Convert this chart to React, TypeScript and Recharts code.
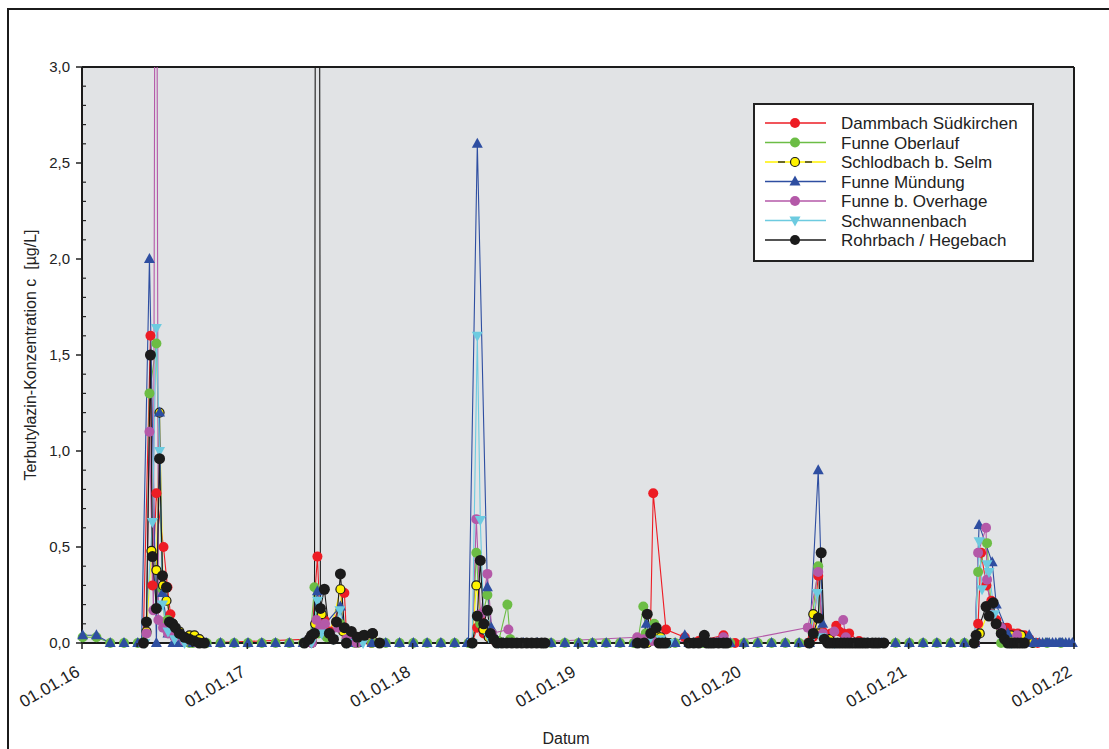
import React from "react";
import {
  LineChart,
  Line,
  XAxis,
  YAxis,
  CartesianGrid,
  ReferenceLine,
  Legend,
} from "recharts";

const FONT = '"Liberation Sans", Arial, Helvetica, sans-serif';

// axis ticks (x in decimal years)
const xTicks = [
  2016, 2016.3333, 2016.6667, 2017, 2017.3333, 2017.6667, 2018, 2018.3333,
  2018.6667, 2019, 2019.3333, 2019.6667, 2020, 2020.3333, 2020.6667, 2021,
  2021.3333, 2021.6667, 2022,
];
const yTicks = [
  0, 0.1, 0.2, 0.3, 0.4, 0.5, 0.6, 0.7, 0.8, 0.9, 1, 1.1, 1.2, 1.3, 1.4, 1.5,
  1.6, 1.7, 1.8, 1.9, 2, 2.1, 2.2, 2.3, 2.4, 2.5, 2.6, 2.7, 2.8, 2.9, 3,
];

// routine monthly samples 2016-2021 (null = month covered by event sampling)
const oberlaufMonthly = [
  0.03, 0.03, 0, 0, 0, null, null, null, 0, 0, 0, 0,
  0, 0, 0, 0, 0, null, null, null, 0, 0, 0, 0,
  0, 0, 0, 0, 0, null, null, null, 0, 0, 0, 0,
  0, 0, 0, 0, 0, null, null, 0, 0, 0, 0, 0,
  0, 0, 0, 0, 0, null, null, 0, 0, 0, 0, 0,
  0, 0, 0, 0, 0, null, null, 0, 0, 0, 0, 0,
];
const muendungMonthly = [
  0.04, 0.04, 0, 0, 0, null, null, 0, 0, 0, 0, 0,
  0, 0, 0, 0, 0, null, null, null, 0, 0, 0, 0,
  0, 0, 0, 0, 0, null, null, 0, 0, 0, 0, 0,
  0, 0, 0, 0, 0, null, null, 0, 0, 0, 0, 0,
  0, 0, 0, 0, 0, null, null, 0, 0, 0, 0, 0,
  0, 0, 0, 0, 0, null, null, null, null, 0, 0, 0,
];

// event samples [decimal year, µg/L]
const dammbach = [
  [2016.37, 0], [2016.414, 1.6], [2016.426, 0.3], [2016.45, 0.78], [2016.493, 0.5],
  [2016.517, 0.29], [2016.535, 0.15], [2016.565, 0.06], [2016.62, 0.03], [2016.68, 0.01], [2016.74, 0],
  [2017.39, 0.02], [2017.424, 0.45], [2017.44, 0.1], [2017.466, 0.12], [2017.5, 0.06],
  [2017.587, 0.26], [2017.6, 0.04], [2017.66, 0.02], [2017.75, 0],
  [2018.36, 0], [2018.39, 0.08], [2018.41, 0.12], [2018.43, 0.05], [2018.46, 0.03], [2018.5, 0.01], [2018.55, 0],
  [2019.4, 0], [2019.437, 0.02], [2019.455, 0.78], [2019.532, 0.07], [2019.646, 0.03], [2019.73, 0.01],
  [2019.88, 0.04], [2019.95, 0],
  [2020.39, 0], [2020.42, 0.03], [2020.453, 0.35], [2020.48, 0.06], [2020.53, 0.05], [2020.562, 0.09],
  [2020.58, 0.06], [2020.604, 0.05], [2020.64, 0.05], [2020.7, 0.01], [2020.8, 0],
  [2021.4, 0], [2021.42, 0.1], [2021.438, 0.47], [2021.47, 0.3], [2021.5, 0.22], [2021.53, 0.12],
  [2021.56, 0.08], [2021.595, 0.08], [2021.63, 0.05], [2021.66, 0.05], [2021.7, 0.04], [2021.73, 0.02], [2021.78, 0],
];
const oberlaufEvents = [
  [2016.39, 0.05], [2016.408, 1.3], [2016.45, 1.56], [2016.487, 0.28], [2016.5, 0.11],
  [2016.52, 0.12], [2016.55, 0.06], [2016.6, 0.02], [2016.65, 0],
  [2017.38, 0.02], [2017.406, 0.29], [2017.43, 0.05], [2017.48, 0.03], [2017.56, 0.1], [2017.6, 0.02], [2017.65, 0],
  [2018.36, 0], [2018.385, 0.47], [2018.409, 0.1], [2018.452, 0.25], [2018.48, 0.05], [2018.52, 0.01],
  [2018.573, 0.2], [2018.59, 0.02], [2018.65, 0],
  [2019.36, 0], [2019.395, 0.19], [2019.41, 0.05], [2019.461, 0.1], [2019.49, 0.02], [2019.55, 0],
  [2020.4, 0], [2020.453, 0.4], [2020.47, 0.05], [2020.5, 0.02], [2020.55, 0],
  [2021.4, 0], [2021.42, 0.37], [2021.474, 0.52], [2021.5, 0.15], [2021.559, 0], [2021.6, 0],
];
const schlodbach = [
  [2016.37, 0], [2016.39, 0.06], [2016.42, 0.48], [2016.45, 0.38], [2016.469, 1.2], [2016.49, 0.3],
  [2016.511, 0.22], [2016.55, 0.1], [2016.589, 0.06], [2016.65, 0.04], [2016.68, 0.04], [2016.71, 0.02], [2016.74, 0],
  [2017.39, 0], [2017.41, 0.1], [2017.45, 0.15], [2017.5, 0.05], [2017.563, 0.28], [2017.58, 0.06],
  [2017.7, 0.04], [2017.76, 0.05], [2017.8, 0],
  [2018.36, 0], [2018.385, 0.3], [2018.427, 0.07], [2018.46, 0.03], [2018.52, 0], [2018.65, 0],
  [2019.42, 0], [2019.47, 0.05], [2019.5, 0.03], [2019.55, 0],
  [2020.4, 0], [2020.423, 0.15], [2020.45, 0.05], [2020.52, 0.02], [2020.6, 0],
  [2021.4, 0], [2021.43, 0.05], [2021.5, 0.2], [2021.56, 0.08], [2021.62, 0.04], [2021.68, 0.04], [2021.75, 0],
];
const muendungEvents = [
  [2016.36, 0], [2016.408, 2.0], [2016.45, 0], [2016.469, 1.2], [2016.487, 0.26], [2016.52, 0.05], [2016.55, 0],
  [2017.38, 0], [2017.424, 0.27], [2017.45, 0.08], [2017.563, 0.19], [2017.6, 0.02], [2017.63, 0],
  [2018.33, 0], [2018.391, 2.6], [2018.452, 0.29], [2018.476, 0.08], [2018.5, 0.03], [2018.55, 0],
  [2019.38, 0], [2019.413, 0.1], [2019.44, 0.03], [2019.646, 0.04], [2019.7, 0],
  [2020.4, 0], [2020.453, 0.9], [2020.48, 0.1], [2020.52, 0],
  [2021.4, 0], [2021.426, 0.615], [2021.505, 0.42], [2021.53, 0.2], [2021.6, 0.05], [2021.729, 0.04],
  [2021.77, 0], [2021.79, 0], [2021.81, 0], [2021.83, 0], [2021.85, 0], [2021.87, 0], [2021.89, 0],
  [2021.91, 0], [2021.93, 0], [2021.95, 0], [2021.97, 0], [2021.99, 0],
];
const overhage = [
  [2016.37, 0], [2016.39, 0.05], [2016.408, 1.1], [2016.432, 0.17], [2016.447, 6.0], [2016.462, 0.12],
  [2016.49, 0.08], [2016.52, 0.05], [2016.56, 0.03], [2016.62, 0.01], [2016.7, 0],
  [2017.39, 0], [2017.418, 0.12], [2017.44, 0.08], [2017.47, 0.1], [2017.5, 0.05], [2017.55, 0.08], [2017.6, 0.02], [2017.66, 0],
  [2018.36, 0], [2018.385, 0.645], [2018.41, 0.15], [2018.452, 0.36], [2018.48, 0.05], [2018.579, 0.07], [2018.62, 0],
  [2019.358, 0.03], [2019.4, 0.02], [2019.45, 0.01], [2019.52, 0], [2019.88, 0.03], [2019.9, 0],
  [2020.39, 0.08], [2020.453, 0.37], [2020.48, 0.05], [2020.55, 0.06], [2020.604, 0.12], [2020.62, 0.03], [2020.7, 0],
  [2021.4, 0], [2021.42, 0.47], [2021.468, 0.6], [2021.474, 0.33], [2021.5, 0.15], [2021.56, 0.08], [2021.656, 0.04], [2021.7, 0],
];
const schwannenbach = [
  [2016.38, 0], [2016.426, 0.63], [2016.45, 1.64], [2016.469, 1.0], [2016.487, 0.2], [2016.52, 0.06], [2016.56, 0.02], [2016.62, 0],
  [2017.388, 0], [2017.424, 0.22], [2017.45, 0.05], [2017.52, 0.02], [2017.56, 0.17], [2017.6, 0], [2017.7, 0],
  [2018.36, 0], [2018.391, 1.6], [2018.409, 0.64], [2018.43, 0.1], [2018.46, 0.03], [2018.52, 0],
  [2019.4, 0], [2019.44, 0.03], [2019.5, 0.02], [2019.55, 0],
  [2020.4, 0], [2020.447, 0.26], [2020.47, 0.03], [2020.55, 0],
  [2021.4, 0], [2021.426, 0.53], [2021.444, 0.28], [2021.474, 0.41], [2021.486, 0.37], [2021.52, 0.15], [2021.56, 0.03], [2021.62, 0],
];
const rohrbach = [
  [2016.372, 0], [2016.39, 0.11], [2016.414, 1.5], [2016.426, 0.45], [2016.45, 0.18], [2016.469, 0.96],
  [2016.487, 0.35], [2016.511, 0.29], [2016.529, 0.11], [2016.547, 0.1], [2016.565, 0.08], [2016.589, 0.05],
  [2016.62, 0.03], [2016.65, 0.02], [2016.68, 0.01], [2016.71, 0], [2016.74, 0],
  [2017.345, 0], [2017.375, 0.02], [2017.388, 0.04], [2017.406, 0.05], [2017.424, 12], [2017.442, 0.18],
  [2017.466, 0.28], [2017.496, 0.05], [2017.521, 0.02], [2017.539, 0.11], [2017.563, 0.36], [2017.587, 0.08],
  [2017.599, 0], [2017.629, 0.06], [2017.666, 0.03], [2017.708, 0.04], [2017.756, 0.05], [2017.8, 0],
  [2018.36, 0], [2018.391, 0.14], [2018.409, 0.43], [2018.43, 0.1], [2018.452, 0.17], [2018.47, 0.05],
  [2018.49, 0.02], [2018.51, 0], [2018.54, 0], [2018.57, 0], [2018.6, 0], [2018.63, 0], [2018.66, 0],
  [2018.69, 0], [2018.72, 0], [2018.75, 0], [2018.78, 0], [2018.8, 0],
  [2019.36, 0], [2019.4, 0], [2019.419, 0.15], [2019.44, 0.05], [2019.473, 0.08], [2019.49, 0], [2019.51, 0],
  [2019.53, 0], [2019.67, 0], [2019.7, 0], [2019.73, 0], [2019.764, 0.04], [2019.78, 0], [2019.8, 0],
  [2019.82, 0], [2019.85, 0], [2019.88, 0], [2019.9, 0],
  [2020.399, 0], [2020.423, 0.05], [2020.453, 0.13], [2020.471, 0.47], [2020.49, 0.02], [2020.51, 0],
  [2020.53, 0], [2020.55, 0], [2020.57, 0], [2020.59, 0], [2020.61, 0], [2020.63, 0], [2020.65, 0],
  [2020.67, 0], [2020.69, 0], [2020.71, 0], [2020.73, 0], [2020.75, 0], [2020.78, 0], [2020.8, 0],
  [2020.82, 0], [2020.85, 0],
  [2021.396, 0], [2021.408, 0.04], [2021.468, 0.19], [2021.486, 0.14], [2021.511, 0.21], [2021.529, 0.1],
  [2021.56, 0.05], [2021.58, 0.02], [2021.6, 0], [2021.62, 0], [2021.64, 0], [2021.66, 0], [2021.68, 0], [2021.7, 0],
];

const toPts = (rows: number[][]) => rows.map(([t, v]) => ({ t, v }));
const withMonthly = (monthly: (number | null)[], events: number[][]) =>
  [
    ...monthly
      .map((v, i) => (v === null ? null : { t: 2016 + i / 12 + 0.004, v }))
      .filter((p): p is { t: number; v: number } => p !== null),
    ...toPts(events),
  ].sort((a, b) => a.t - b.t);

const series = [
  { name: "Dammbach Südkirchen", color: "#ed1c24", marker: "circle", data: toPts(dammbach) },
  { name: "Funne Oberlauf", color: "#6cbd45", marker: "circle", data: withMonthly(oberlaufMonthly, oberlaufEvents) },
  { name: "Schlodbach b. Selm", color: "#fff200", marker: "ring", data: toPts(schlodbach) },
  { name: "Funne Mündung", color: "#2e4ea1", marker: "up", data: withMonthly(muendungMonthly, muendungEvents) },
  { name: "Funne b. Overhage", color: "#b459a8", marker: "circle", data: toPts(overhage) },
  { name: "Schwannenbach", color: "#6dcbe0", marker: "down", data: toPts(schwannenbach) },
  { name: "Rohrbach / Hegebach", color: "#1b1b1b", marker: "circle", data: toPts(rohrbach) },
];

const Marker = ({ cx, cy, kind, color, big }: any) => {
  if (cx == null || cy == null) return <g />;
  if (kind === "up") {
    return (
      <polygon
        points={`${cx},${cy - 6} ${cx - 5.5},${cy + 4} ${cx + 5.5},${cy + 4}`}
        fill={color}
      />
    );
  }
  if (kind === "down") {
    return (
      <polygon
        points={`${cx},${cy + 6} ${cx - 5.5},${cy - 4} ${cx + 5.5},${cy - 4}`}
        fill={color}
      />
    );
  }
  if (kind === "ring") {
    return <circle cx={cx} cy={cy} r={4.5} fill={color} stroke="#1b1b1b" strokeWidth={1.2} />;
  }
  return <circle cx={cx} cy={cy} r={big ? 5.5 : 5} fill={color} />;
};

// dot element that recharts clips with the widened "dots" clip path (so markers on 0,0 stay whole)
const dotFor = (s: any) => ({
  ...(
    <Marker kind={s.marker} color={s.color} big={s.name.startsWith("Rohrbach")} r={7} strokeWidth={0} />
  ),
  clipDot: false,
});

const fmtYear = (v: number) => `01.01.${String(Math.round(v)).slice(2)}`;

const XTick = (props: any) => {
  const { x, y, payload } = props;
  const v = payload.value;
  const major = Math.abs(v - Math.round(v)) < 0.001;
  const tx = x - 1;
  const ty = y + 32;
  return (
    <g>
      <line x1={x} x2={x} y1={y} y2={y + (major ? 6 : 4)} stroke="#222" strokeWidth={1.5} />
      {major && (
        <text
          x={tx}
          y={ty}
          textAnchor="end"
          transform={`rotate(-30 ${tx} ${ty})`}
          fontSize={17}
          fontFamily={FONT}
          fill="#222"
        >
          {fmtYear(v)}
        </text>
      )}
    </g>
  );
};

const YTickLeft = (props: any) => {
  const { x, y, payload } = props;
  const v = payload.value;
  const major = Math.abs(v * 2 - Math.round(v * 2)) < 0.001;
  if (!major) {
    return <line x1={x} x2={x + 4} y1={y} y2={y} stroke="#222" strokeWidth={1.2} />;
  }
  return (
    <g>
      <line x1={x - 6} x2={x} y1={y} y2={y} stroke="#222" strokeWidth={1.5} />
      <text x={x - 12} y={y + 5} textAnchor="end" fontSize={15} fontFamily={FONT} fill="#222">
        {v.toFixed(1).replace(".", ",")}
      </text>
    </g>
  );
};

const YTickRight = (props: any) => {
  const { x, y } = props;
  return <line x1={x - 4} x2={x} y1={y} y2={y} stroke="#222" strokeWidth={1.2} />;
};

const LegendBox = (props: any) => {
  const names = (props.payload || []).map((it: any) => it.value);
  const items = series.filter((s) => names.includes(s.name));
  return (
    <div
      style={{
        width: 281,
        height: 159,
        boxSizing: "border-box",
        border: "2px solid #222",
        background: "#fff",
      }}
    >
      <svg width={277} height={155}>
        {items.map((s, i) => {
          const y = 18 + i * 19.5;
          return (
            <g key={s.name}>
              <line x1={10} x2={71} y1={y} y2={y} stroke={s.color} strokeWidth={1.3} />
              {s.marker === "ring" && (
                <g>
                  <line x1={23} x2={30} y1={y} y2={y} stroke="#1b1b1b" strokeWidth={1.3} />
                  <line x1={50} x2={57} y1={y} y2={y} stroke="#1b1b1b" strokeWidth={1.3} />
                </g>
              )}
              <Marker cx={40} cy={y} kind={s.marker} color={s.color} />
              <text x={86} y={y + 6} fontSize={17} fontFamily={FONT} fill="#222">
                {s.name}
              </text>
            </g>
          );
        })}
      </svg>
    </div>
  );
};

export default function App() {
  return (
    <div
      style={{
        position: "fixed",
        left: 0,
        top: 0,
        width: 1109,
        height: 749,
        overflow: "hidden",
        background: "#fff",
      }}
    >
      <div
        style={{
          position: "absolute",
          left: 7,
          top: 8,
          width: 1200,
          height: 800,
          border: "2px solid #1b1b1b",
        }}
      />
      <div style={{ position: "absolute", left: 0, top: 0 }}>
        <LineChart
          width={1109}
          height={749}
          margin={{ top: 67, right: 35, left: 0, bottom: 0 }}
        >
          <CartesianGrid fill="#e1e3e5" horizontal={false} vertical={false} />
          <XAxis
            xAxisId="x"
            type="number"
            dataKey="t"
            domain={[2016, 2022]}
            allowDataOverflow
            ticks={xTicks}
            interval={0}
            tickLine={false}
            tickSize={0}
            tickMargin={0}
            tick={<XTick />}
            axisLine={{ stroke: "#1b1b1b", strokeWidth: 2 }}
            height={106}
            label={(p: any) => {
              const vb = p.viewBox;
              return (
                <text
                  x={vb.x + vb.width / 2 - 12}
                  y={744}
                  textAnchor="middle"
                  fontSize={16}
                  fontFamily={FONT}
                  fill="#222"
                >
                  Datum
                </text>
              );
            }}
          />
          <YAxis
            yAxisId="y"
            type="number"
            domain={[0, 3]}
            allowDataOverflow
            ticks={yTicks}
            interval={0}
            tickLine={false}
            tickSize={0}
            tickMargin={0}
            tick={<YTickLeft />}
            axisLine={{ stroke: "#1b1b1b", strokeWidth: 2 }}
            width={82}
            label={(p: any) => {
              const vb = p.viewBox;
              const cx = 36;
              const cy = vb.y + vb.height / 2;
              return (
                <text
                  x={cx}
                  y={cy}
                  textAnchor="middle"
                  transform={`rotate(-90 ${cx} ${cy})`}
                  fontSize={16}
                  fontFamily={FONT}
                  fill="#222"
                  style={{ whiteSpace: "pre" }}
                >
                  {"Terbutylazin-Konzentration c  [µg/L]"}
                </text>
              );
            }}
          />
          <YAxis
            yAxisId="r"
            orientation="right"
            mirror
            type="number"
            domain={[0, 3]}
            ticks={yTicks}
            interval={0}
            tickLine={false}
            tickSize={0}
            tickMargin={0}
            tick={<YTickRight />}
            axisLine={{ stroke: "#1b1b1b", strokeWidth: 2 }}
          />
          <ReferenceLine yAxisId="y" xAxisId="x" y={3} stroke="#1b1b1b" strokeWidth={2} />
          {series.map((s) => (
            <Line
              key={s.name}
              xAxisId="x"
              yAxisId="y"
              data={s.data}
              dataKey="v"
              name={s.name}
              type="linear"
              stroke={s.color}
              strokeWidth={1.1}
              isAnimationActive={false}
              dot={dotFor(s) as any}
              activeDot={false}
            />
          ))}
          <Legend
            layout="horizontal"
            verticalAlign="middle"
            align="center"
            wrapperStyle={{ left: 753, top: 103, width: 281, height: 159 }}
            content={<LegendBox />}
          />
        </LineChart>
      </div>
    </div>
  );
}
